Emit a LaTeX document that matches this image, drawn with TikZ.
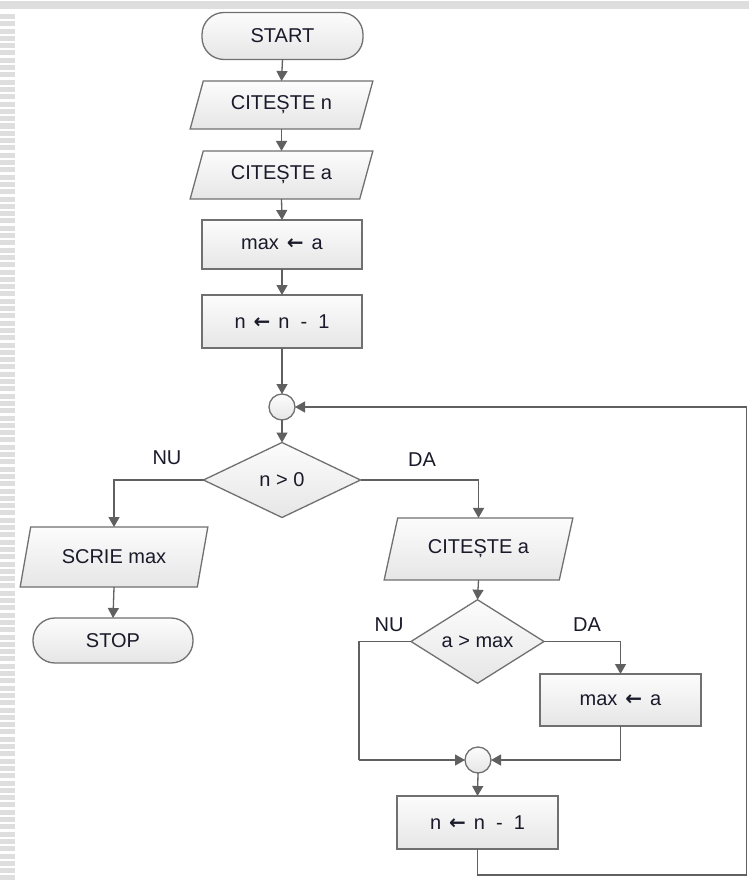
\documentclass[tikz,border=0pt]{standalone}
\usepackage{fontspec}
\setmainfont{Liberation Sans}
\newfontfamily\arrfont{DejaVu Sans}
\usetikzlibrary{shapes.geometric,arrows.meta}
\definecolor{edgec}{HTML}{707070}
\definecolor{linc}{HTML}{606060}
\definecolor{txtc}{HTML}{1A1A2A}
\definecolor{fillt}{HTML}{FCFCFC}
\definecolor{fillb}{HTML}{E6E6E6}
\definecolor{bandc}{HTML}{DEDEDE}
\newcommand{\gp}{\hspace{0.55em}}
\newcommand{\lar}{\hspace{0.4em}{\arrfont\bfseries ←}\hspace{0.4em}}
\begin{document}
\begin{tikzpicture}[x=1pt,y=-1pt,
  font=\fontsize{20}{24}\selectfont, text=txtc,
  base/.style={draw=edgec, line width=1.3pt, top color=fillt, bottom color=fillb, inner sep=0pt, outer sep=0pt},
  term/.style={base, rectangle, rounded corners=22pt, minimum width=161pt, minimum height=47pt},
  proc/.style={base, rectangle, minimum width=160pt, minimum height=51pt},
  io/.style={base, trapezium, trapezium left angle=65, trapezium right angle=115, trapezium stretches=true},
  dec/.style={base, diamond},
  junc/.style={base, circle, minimum size=26pt},
  conn/.style={draw=linc, line width=1.3pt, -{Triangle[length=10pt,width=11pt]}},
  plainl/.style={draw=linc, line width=1.3pt},
  lbl/.style={text=txtc, inner sep=0pt}]
% frame
\useasboundingbox (0,0) rectangle (749,880);
\fill[white] (0,0) rectangle (749,880);
\fill[bandc] (0,1.5) rectangle (749,9.5);
\foreach \k in {0,...,118} {
  \fill[bandc] (0,{14+\k*7.3}) rectangle (15,{19+\k*7.3});
}
% main column
\node[term] (start) at (282.5,36) {START};
\node[io, minimum width=183pt, minimum height=48pt] (r1) at (281.5,105) {CITEȘTE n};
\node[io, minimum width=183pt, minimum height=48pt] (r2) at (281.5,175) {CITEȘTE a};
\node[proc, minimum height=49pt] (p1) at (282,244.5) {max\lar a};
\node[proc, minimum height=53pt] (p2) at (282,321.5) {n\lar n\gp-\gp1};
\node[junc] (c1) at (282,407) {};
\node[dec, minimum width=157pt, minimum height=75pt] (d1) at (282,480) {n > 0};
% left branch
\node[io, minimum width=188pt, minimum height=60pt] (o1) at (114,557) {SCRIE max};
\node[term, minimum width=160pt, minimum height=45pt] (stop) at (113,640.5) {STOP};
% right branch
\node[io, minimum width=189pt, minimum height=62pt] (i2) at (478.5,549) {CITEȘTE a};
\node[dec, minimum width=133pt, minimum height=65pt] (d2) at (477.5,641.5) {a > max};
\node[proc, minimum width=161pt, minimum height=52pt] (p3) at (620.5,700) {max\lar a};
\node[junc] (c2) at (478,760) {};
\node[proc, minimum width=161pt, minimum height=53pt] (p4) at (477.5,822.5) {n\lar n\gp-\gp1};
% corner coordinates
\coordinate (nuc) at (359,760);
\coordinate (loopc) at (746.5,875);
% labels
\node[lbl] at (167,458) {NU};
\node[lbl] at (422,460) {DA};
\node[lbl] at (389,625) {NU};
\node[lbl] at (587,625) {DA};
% connectors
\draw[conn] (start.south) -- (r1.north);
\draw[conn] (r1.south) -- (r2.north);
\draw[conn] (r2.south) -- (p1.north);
\draw[conn] (p1.south) -- (p2.north);
\draw[conn] (p2.south) -- (c1.north);
\draw[conn] (c1.south) -- (d1.north);
\draw[conn] (d1.west) -| (o1.north);
\draw[conn] (o1.south) -- (stop.north);
\draw[conn] (d1.east) -| (i2.north);
\draw[conn] (i2.south) -- (d2.north);
\draw[conn] (d2.east) -| (p3.north);
\draw[plainl] (d2.west) -| (nuc);
\draw[conn] (nuc) -- (c2.west);
\draw[conn] (p3.south) |- (c2.east);
\draw[conn] (c2.south) -- (p4.north);
\draw[plainl] (p4.south) |- (loopc);
\draw[conn] (loopc) |- (c1.east);
\end{tikzpicture}
\end{document}
